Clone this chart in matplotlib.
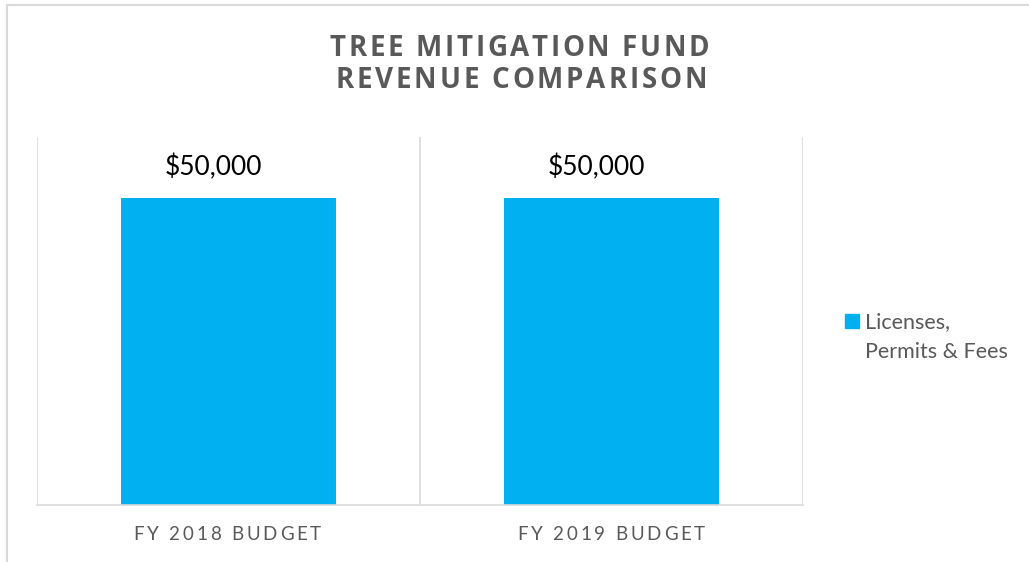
import matplotlib
matplotlib.use('Agg')
import matplotlib.pyplot as plt
import matplotlib.transforms as mtransforms
from matplotlib.font_manager import FontProperties, findfont, get_font
from matplotlib.lines import Line2D
from matplotlib.patches import Rectangle

W, H, DPI = 1029, 562, 100

# data
categories = ['FY 2018 BUDGET', 'FY 2019 BUDGET']
revenue = [50000, 50000]
series_lines = ['Licenses,', 'Permits & Fees']
title_lines = ['TREE MITIGATION FUND', 'REVENUE COMPARISON']

BAR_COLOR = '#00B0F0'
GRID = '#d9d9d9'
TEXT = '#595959'
PIX = mtransforms.IdentityTransform()


def spaced_text(fig, s, cx, baseline, width, family, size, weight='normal', color=TEXT):
    """letter spaced text, centred at cx (pixels), baseline in image rows"""
    fp = FontProperties(family=family, size=size, weight=weight)
    font = get_font(findfont(fp))
    font.set_size(size, DPI)
    adv = [font.load_char(ord(c)).linearHoriAdvance / 65536 for c in s]
    gap = (width - sum(adv)) / (len(s) - 1)
    x = cx - width / 2
    for c, a in zip(s, adv):
        if c != ' ':
            fig.text(x, H - baseline, c, transform=PIX, fontproperties=fp,
                     color=color, ha='left', va='baseline')
        x += a + gap


fig = plt.figure(figsize=(W / DPI, H / DPI), dpi=DPI)
ax = fig.add_axes([37 / W, (H - 505) / H, 766 / W, 368 / H])

x = list(range(len(categories)))
bars = ax.bar(x, revenue, width=0.56, color=BAR_COLOR, zorder=2)
ax.set_xlim(-0.5, len(categories) - 0.5)
ax.set_ylim(0, 60000)

for sp in ['top', 'right', 'left']:
    ax.spines[sp].set_visible(False)
ax.spines['bottom'].set_color(GRID)
ax.spines['bottom'].set_linewidth(1.2)
for b in [i - 0.5 for i in range(len(categories) + 1)]:
    ax.axvline(b, color=GRID, lw=1.2, zorder=1)
ax.set_xticks([])
ax.set_yticks([])

for xi, v in zip(x, revenue):
    ax.annotate('${:,.0f}'.format(v), (xi, v), xytext=(-15, 23), textcoords='offset pixels',
                ha='center', va='baseline', fontsize=19, family='Lato', color='black')

# category labels
label_centers = [227, 611]
for lab, cx in zip(categories, label_centers):
    spaced_text(fig, lab, cx, 540, 188, 'Lato', 13.5)

# title
spaced_text(fig, title_lines[0], 519.5, 56, 379, 'Open Sans', 20, weight='bold')
spaced_text(fig, title_lines[1], 521, 88, 372, 'Open Sans', 20, weight='bold')

# legend
fig.patches.append(Rectangle((845, H - 328), 14, 14, transform=PIX, color=BAR_COLOR))
for i, line in enumerate(series_lines):
    fig.text(865, H - 328 - 30 * i, line, transform=PIX, ha='left', va='baseline',
             fontsize=15.5, family='Lato', color=TEXT)

# chart border
fig.lines.append(Line2D([7, W], [H - 5, H - 5], transform=PIX, color=GRID, lw=1.5))
fig.lines.append(Line2D([7, 7], [0, H - 5], transform=PIX, color=GRID, lw=1.5))

fig.savefig('out.png', dpi=DPI)
